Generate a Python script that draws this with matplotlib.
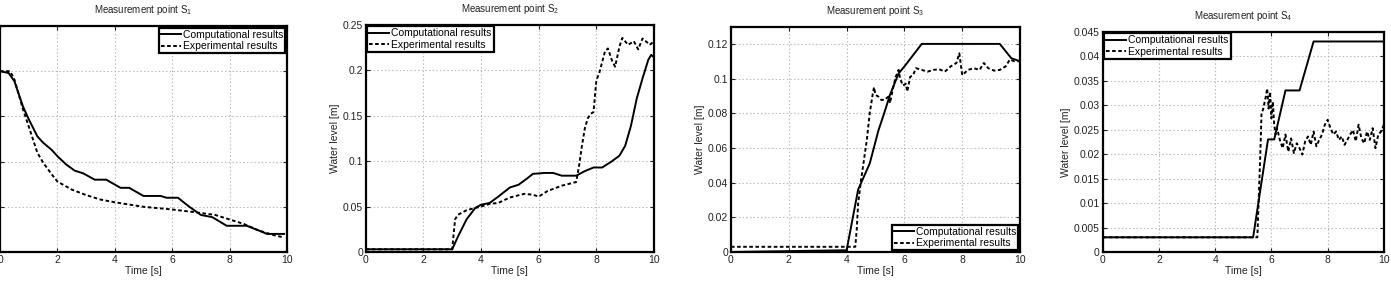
import matplotlib
matplotlib.use("Agg")
from matplotlib import pyplot as plt
from matplotlib.ticker import FuncFormatter

plt.rcParams['font.family'] = ['Liberation Sans', 'DejaVu Sans']
plt.rcParams['mathtext.default'] = 'regular'
plt.rcParams['lines.scale_dashes'] = False

# measurement point S1
t1_comp = [0, 0.3, 0.5, 0.8, 1.0, 1.3, 1.5, 1.8, 2.0, 2.3, 2.6, 2.9, 3.3, 3.7, 4.2, 4.5,
           5.0, 5.6, 5.8, 6.2, 6.6, 7.0, 7.4, 7.9, 8.6, 9.0, 9.3, 9.9]
s1_comp = [0.2, 0.198, 0.189, 0.161, 0.147, 0.128, 0.121, 0.113, 0.106, 0.097, 0.090, 0.087,
           0.080, 0.080, 0.071, 0.071, 0.062, 0.062, 0.060, 0.060, 0.050, 0.041, 0.0385,
           0.029, 0.029, 0.024, 0.020, 0.020]
t1_exp = [0, 0.35, 0.5, 0.8, 1.0, 1.3, 1.5, 1.8, 2.0, 2.5, 3.0, 3.5, 4.0, 5.0, 6.0, 6.8,
          7.5, 8.0, 8.5, 9.0, 9.5, 9.9]
s1_exp = [0.2, 0.2, 0.191, 0.158, 0.139, 0.110, 0.099, 0.086, 0.078, 0.069, 0.063, 0.058,
          0.055, 0.050, 0.047, 0.044, 0.041, 0.036, 0.031, 0.024, 0.019, 0.016]

# measurement point S2
t2_comp = [0, 3.0, 3.2, 3.5, 3.8, 4.0, 4.3, 4.6, 5.0, 5.3, 5.6, 5.8, 6.2, 6.5, 6.8, 7.3,
           7.6, 7.9, 8.2, 8.5, 8.8, 9.0, 9.2, 9.4, 9.6, 9.8, 9.9, 10.0]
s2_comp = [0.003, 0.003, 0.017, 0.036, 0.0485, 0.052, 0.054, 0.061, 0.071, 0.074, 0.081,
           0.086, 0.087, 0.087, 0.084, 0.084, 0.089, 0.093, 0.093, 0.099, 0.106, 0.117,
           0.139, 0.169, 0.191, 0.2115, 0.217, 0.214]
t2_exp = [0, 3.0, 3.1, 3.2, 3.5, 3.8, 4.0, 4.3, 4.6, 5.0, 5.5, 5.8, 6.0, 6.3, 6.8, 7.3,
          7.4, 7.5, 7.6, 7.7, 7.8, 7.9, 8.0, 8.1, 8.3, 8.4, 8.55, 8.65, 8.8, 8.9, 9.1, 9.3,
          9.45, 9.6, 9.75, 9.85, 10.0]
s2_exp = [0.003, 0.003, 0.036, 0.041, 0.046, 0.0485, 0.050, 0.053, 0.054, 0.060, 0.064,
          0.063, 0.061, 0.067, 0.073, 0.077, 0.095, 0.117, 0.136, 0.147, 0.152, 0.154,
          0.189, 0.197, 0.221, 0.224, 0.210, 0.204, 0.226, 0.2356, 0.228, 0.232, 0.223,
          0.235, 0.231, 0.228, 0.232]

# measurement point S3
t3_comp = [0, 4.0, 4.4, 4.8, 5.1, 5.3, 5.5, 5.8, 6.0, 6.6, 9.3, 9.7, 10.0]
s3_comp = [0.0, 0.001, 0.036, 0.051, 0.070, 0.080, 0.0906, 0.103, 0.107, 0.120, 0.120,
           0.1117, 0.110]
t3_exp = [0, 4.3, 4.35, 4.4, 4.5, 4.6, 4.7, 4.8, 4.9, 4.95, 5.0, 5.1, 5.2, 5.3, 5.45, 5.5,
          5.6, 5.7, 5.8, 5.85, 5.95, 6.05, 6.1, 6.2, 6.3, 6.4, 6.6, 6.8, 7.0, 7.2, 7.4,
          7.6, 7.8, 7.9, 8.0, 8.2, 8.4, 8.6, 8.75, 8.9, 9.1, 9.3, 9.5, 9.65, 9.8, 10.0]
s3_exp = [0.003, 0.003, 0.0127, 0.028, 0.0415, 0.053, 0.0646, 0.080, 0.0906, 0.095,
          0.0906, 0.0896, 0.0877, 0.0877, 0.0896, 0.0858, 0.094, 0.101, 0.105, 0.100,
          0.096, 0.097, 0.0925, 0.101, 0.102, 0.106, 0.105, 0.104, 0.105, 0.1054, 0.104,
          0.107, 0.109, 0.1146, 0.102, 0.105, 0.106, 0.105, 0.109, 0.106, 0.1046, 0.105,
          0.107, 0.111, 0.110, 0.110]

# measurement point S4
t4_comp = [0, 5.35, 5.88, 6.1, 6.5, 7.0, 7.5, 10.0]
s4_comp = [0.003, 0.003, 0.023, 0.023, 0.033, 0.033, 0.043, 0.043]
t4_exp = [0, 5.5, 5.6, 5.65, 5.7, 5.8, 5.85, 5.9, 5.95, 6.0, 6.05, 6.1, 6.15, 6.2, 6.3,
          6.4, 6.5, 6.6, 6.7, 6.8, 6.9, 7.0, 7.1, 7.2, 7.3, 7.4, 7.5, 7.6, 7.7, 7.8, 7.9,
          8.0, 8.1, 8.2, 8.3, 8.4, 8.5, 8.6, 8.7, 8.8, 8.9, 9.0, 9.1, 9.2, 9.3, 9.4, 9.5,
          9.6, 9.7, 9.8, 9.9, 10.0]
s4_exp = [0.003, 0.003, 0.019, 0.0286, 0.029, 0.0317, 0.0334, 0.0293, 0.0327, 0.0273,
          0.0307, 0.026, 0.024, 0.0253, 0.0229, 0.0212, 0.024, 0.0205, 0.0232, 0.0202,
          0.0222, 0.0212, 0.0199, 0.0226, 0.0236, 0.0219, 0.0246, 0.0216, 0.0229, 0.024,
          0.026, 0.027, 0.0253, 0.024, 0.0246, 0.0229, 0.0236, 0.0219, 0.0229, 0.024,
          0.0249, 0.0226, 0.026, 0.0232, 0.0222, 0.0246, 0.0229, 0.0253, 0.0212, 0.024,
          0.0246, 0.026]

x_ticks = [0, 2, 4, 6, 8, 10]
panels = [
    (1, t1_comp, s1_comp, t1_exp, s1_exp, 0.25, 0.05, 'upper right', [0.0, 0.1158, 0.2063, 0.793]),
    (2, t2_comp, s2_comp, t2_exp, s2_exp, 0.25, 0.05, 'upper left', [0.2629, 0.1158, 0.2073, 0.797]),
    (3, t3_comp, s3_comp, t3_exp, s3_exp, 0.13, 0.02, 'lower right', [0.5255, 0.1158, 0.2078, 0.791]),
    (4, t4_comp, s4_comp, t4_exp, s4_exp, 0.045, 0.005, 'upper left', [0.7927, 0.1158, 0.2022, 0.773]),
]

fig = plt.figure(figsize=(13.91, 2.85), dpi=100)
for n, tc, yc, te, ye, ymax, ystep, loc, pos in panels:
    ax = fig.add_axes(pos)
    ax.plot(tc, yc, color='black', lw=1.4, label='Computational results')
    ax.plot(te, ye, color='black', lw=1.4, dashes=(2.6, 1.8), label='Experimental results')
    ax.set_xlim(0, 10)
    ax.set_ylim(0, ymax)
    ax.set_xticks(x_ticks)
    nt = int(round(ymax / ystep))
    ax.set_yticks([i * ystep for i in range(nt + 1)])
    ax.yaxis.set_major_formatter(FuncFormatter(lambda v, p: '%g' % round(v, 4)))
    ax.grid(True, color='#b8b8b8', linestyle=':', lw=0.8)
    ax.tick_params(direction='in', top=True, right=True, length=3, labelsize=7.5,
                   colors='#222222', pad=2)
    for sp in ax.spines.values():
        sp.set_linewidth(1.6)
    ax.set_xlabel('Time [s]', fontsize=7.5, color='#222222', labelpad=1)
    ax.set_ylabel('Water level [m]', fontsize=7.5, color='#222222', labelpad=2)
    ax.set_title('Measurement point S$_{%d}$' % n, fontsize=7, color='#222222', pad=9)
    leg = ax.legend(loc=loc, fontsize=7.5, fancybox=False, framealpha=1,
                    edgecolor='black', borderaxespad=0.15, borderpad=0.2,
                    labelspacing=0.15, handlelength=1.9, handletextpad=0.2)
    leg.get_frame().set_linewidth(1.6)

fig.savefig('out.png', dpi=100)
